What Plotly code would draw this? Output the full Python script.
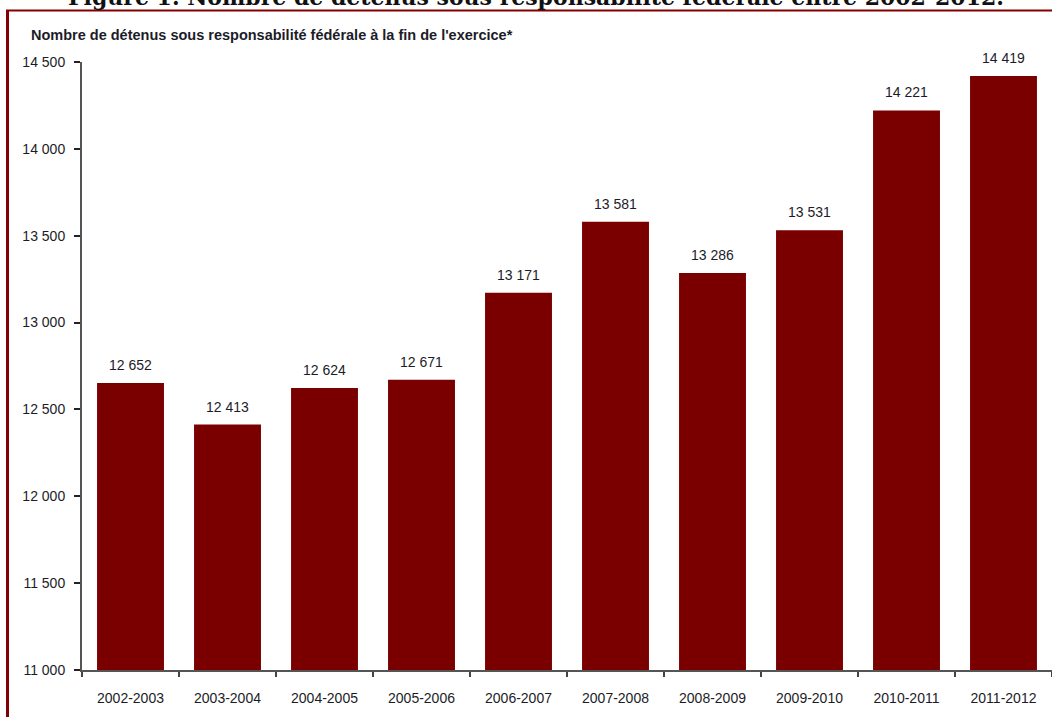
import plotly.graph_objects as go

# Federal offender counts at fiscal year-end
exercices = ["2002-2003", "2003-2004", "2004-2005", "2005-2006", "2006-2007",
             "2007-2008", "2008-2009", "2009-2010", "2010-2011", "2011-2012"]
detenus = [12652, 12413, 12624, 12671, 13171, 13581, 13286, 13531, 14221, 14419]

y_ticks = [11000, 11500, 12000, 12500, 13000, 13500, 14000, 14500]

titre = "Figure 1. Nombre de détenus sous responsabilité fédérale entre 2002-2012."
sous_titre = "Nombre de détenus sous responsabilité fédérale à la fin de l'exercice*"

W, H = 1052, 717
ML, MR, MT, MB = 82, 0, 62, 47
PW, PH = W - ML - MR, H - MT - MB


def px(x):
    return (x - ML) / PW


def py(y):
    return (H - MB - y) / PH


BAR = "#7a0000"
FRAME = "#840000"
TXT = "#1c1c28"

fig = go.Figure(
    go.Bar(
        x=exercices,
        y=detenus,
        width=0.69,
        marker=dict(color=BAR, line=dict(width=0)),
        hoverinfo="x+y",
    )
)

# value labels above each bar
for cat, val in zip(exercices, detenus):
    fig.add_annotation(
        x=cat, y=val, xref="x", yref="y",
        text=f"{val:,}".replace(",", " "),
        showarrow=False, yanchor="bottom", yshift=8,
        font=dict(family="Liberation Sans, Arial, sans-serif", size=14, color=TXT),
    )

# heading, running off the top edge of the page
fig.add_annotation(
    x=px(536), y=py(-3), xref="paper", yref="paper",
    text=f"<b>{titre}</b>", showarrow=False,
    xanchor="center", yanchor="middle",
    font=dict(family="DejaVu Serif, serif", size=22, color="#111111"),
)

fig.add_annotation(
    x=px(29), y=py(35), xref="paper", yref="paper",
    text=f"<b>{sous_titre}</b>", showarrow=False,
    xanchor="left", yanchor="middle",
    font=dict(family="Liberation Sans, Arial, sans-serif", size=14.5, color=TXT),
)

# dark red frame around the figure
fig.add_shape(type="line", xref="paper", yref="paper",
              x0=px(7.5), x1=px(7.5), y0=py(10), y1=py(740),
              line=dict(color=FRAME, width=3))
fig.add_shape(type="line", xref="paper", yref="paper",
              x0=px(6), x1=px(1080), y0=py(10.5), y1=py(10.5),
              line=dict(color=FRAME, width=2))

fig.update_layout(
    width=W, height=H,
    margin=dict(l=ML, r=MR, t=MT, b=MB, pad=0),
    paper_bgcolor="white", plot_bgcolor="white",
    showlegend=False,
    separators=", ",
    bargap=0.31,
    font=dict(family="Liberation Sans, Arial, sans-serif", size=14, color=TXT),
)

fig.update_xaxes(
    type="category",
    range=[-0.5, 9.5],
    showline=True, linecolor="#555555", linewidth=2,
    ticks="outside", tickson="boundaries", ticklen=5, tickwidth=2, tickcolor="#444444",
    showgrid=False, zeroline=False,
    tickfont=dict(size=14, color=TXT),
    ticklabelstandoff=14,
)

fig.update_yaxes(
    range=[11000, 14500],
    tickvals=y_ticks,
    ticktext=[f"{v:,}".replace(",", " ") for v in y_ticks],
    showline=True, linecolor="#555555", linewidth=2,
    ticks="outside", ticklen=6, tickwidth=2, tickcolor="#222222",
    showgrid=False, zeroline=False,
    tickfont=dict(size=14, color=TXT),
    ticklabelstandoff=6,
)

fig.write_html("out.html")
